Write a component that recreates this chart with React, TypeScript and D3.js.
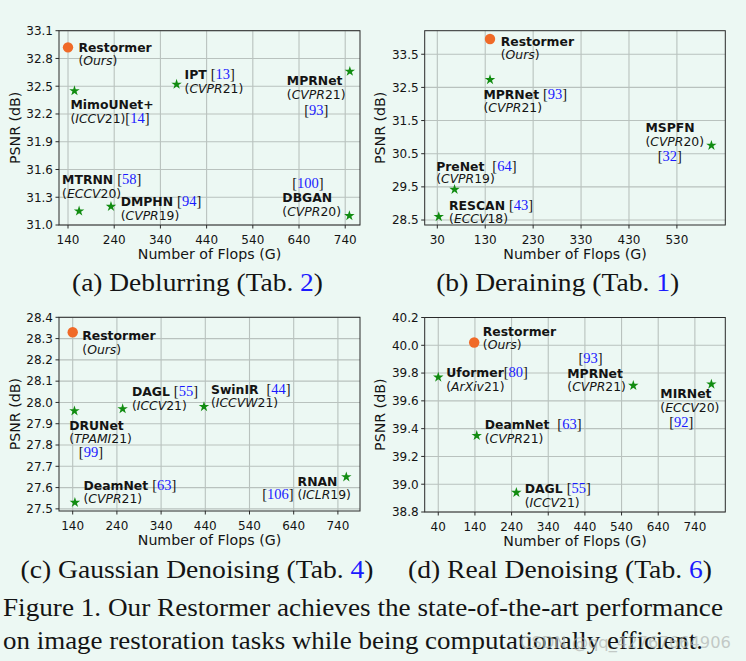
import React from 'react';
import * as d3 from 'd3';

// ---------------- data ----------------
// (a) Deblurring
const deblurModels = ['Restormer', 'MimoUNet+', 'IPT', 'MPRNet', 'MTRNN', 'DMPHN', 'DBGAN'];
const deblurFlops = [140, 154, 375, 750, 164, 233, 749];
const deblurPsnr = [32.92, 32.45, 32.52, 32.66, 31.15, 31.2, 31.1];
const deblurLabels = [
  ['**Restormer**', '(_Ours_)'],
  ['**MimoUNet+**', '(_ICCV_21)[14]'],
  ['**IPT** [13]', '(_CVPR_21)'],
  ['**MPRNet**', '(_CVPR_21)', '[93]'],
  ['**MTRNN** [58]', '(_ECCV_20)'],
  ['**DMPHN** [94]', '(_CVPR_19)'],
  ['[100]', '**DBGAN**', '(_CVPR_20)'],
];
const deblurXTicks = [140, 240, 340, 440, 540, 640, 740];
const deblurYTicks = [31.0, 31.3, 31.6, 31.9, 32.2, 32.5, 32.8, 33.1];

// (b) Deraining
const derainModels = ['Restormer', 'MPRNet', 'MSPFN', 'PreNet', 'RESCAN'];
const derainFlops = [140, 140, 602, 66, 33];
const derainPsnr = [33.96, 32.73, 30.75, 29.42, 28.6];
const derainLabels = [
  ['**Restormer**', '(_Ours_)'],
  ['**MPRNet** [93]', '(_CVPR_21)'],
  ['**MSPFN**', '(_CVPR_20)', '[32]'],
  ['**PreNet**  [64]', '(_CVPR_19)'],
  ['**RESCAN** [43]', '(_ECCV_18)'],
];
const derainXTicks = [30, 130, 230, 330, 430, 530];
const derainYTicks = [28.5, 29.5, 30.5, 31.5, 32.5, 33.5];

// (c) Gaussian Denoising
const gaussModels = ['Restormer', 'DRUNet', 'DAGL', 'SwinIR', 'RNAN', 'DeamNet'];
const gaussFlops = [140, 144, 253, 437, 759, 145];
const gaussPsnr = [28.33, 27.96, 27.97, 27.98, 27.65, 27.53];
const gaussLabels = [
  ['**Restormer**', '(_Ours_)'],
  ['**DRUNet**', '(_TPAMI_21)', '[99]'],
  ['**DAGL** [55]', '(_ICCV_21)'],
  ['**SwinIR**  [44]', '(_ICCVW_21)'],
  ['**RNAN**', '[106]', '(_ICLR_19)'],
  ['**DeamNet** [63]', '(_CVPR_21)'],
];
const gaussXTicks = [140, 240, 340, 440, 540, 640, 740];
const gaussYTicks = [27.5, 27.6, 27.7, 27.8, 27.9, 28.0, 28.1, 28.2, 28.3, 28.4];

// (d) Real Denoising
const realModels = ['Restormer', 'Uformer', 'MPRNet', 'MIRNet', 'DeamNet', 'DAGL'];
const realFlops = [138, 40, 572, 785, 145, 253];
const realPsnr = [40.02, 39.77, 39.71, 39.72, 39.35, 38.94];
const realLabels = [
  ['**Restormer**', '(_Ours_)'],
  ['**Uformer**[80]', '(_ArXiv_21)'],
  ['[93]', '**MPRNet**', '(_CVPR_21)'],
  ['**MIRNet**', '(_ECCV_20)', '[92]'],
  ['**DeamNet**  [63]', '(_CVPR_21)'],
  ['**DAGL** [55]', '(_ICCV_21)'],
];
const realXTicks = [40, 140, 240, 340, 440, 540, 640, 740];
const realYTicks = [38.8, 39.0, 39.2, 39.4, 39.6, 39.8, 40.0, 40.2];

// captions
const subCaptions = [
  ['(a) Deblurring (Tab. ', '2', ')'],
  ['(b) Deraining (Tab. ', '1', ')'],
  ['(c) Gaussian Denoising (Tab. ', '4', ')'],
  ['(d) Real Denoising (Tab. ', '6', ')'],
];
const figureLines = [
  'Figure 1. Our Restormer achieves the state-of-the-art performance',
  'on image restoration tasks while being computationally efficient.',
];
const xAxisTitle = 'Number of Flops (G)';
const yAxisTitle = 'PSNR (dB)';
const watermark = 'CSDN @qq_42767664906';

// ---------------- layout (pixels) ----------------
type LinePos = [number, number, 'start' | 'middle' | 'end'];
const deblurPos: LinePos[][] = [
  [[10.4, 4.4, 'start'], [10.4, 17.9, 'start']],
  [[-4, 18.6, 'start'], [-4, 32.4, 'start']],
  [[8, -5.7, 'start'], [8, 8.5, 'start']],
  [[-63, 14, 'start'], [-63, 28, 'start'], [-33.6, 44, 'middle']],
  [[-17, -27, 'start'], [-17, -13.3, 'start']],
  [[9.7, 0, 'start'], [9.7, 14, 'start']],
  [[-41.4, -27.7, 'middle'], [-67, -13.7, 'start'], [-67, 0.5, 'start']],
];
const derainPos: LinePos[][] = [
  [[10.7, 6.7, 'start'], [10.7, 20, 'start']],
  [[-6.6, 19.3, 'start'], [-6.6, 32.7, 'start']],
  [[-66, -13.3, 'start'], [-66, 0.7, 'start'], [-41.6, 15.7, 'middle']],
  [[-18.4, -19, 'start'], [-18.4, -6.3, 'start']],
  [[10.3, -6.7, 'start'], [10.3, 6, 'start']],
];
const gaussPos: LinePos[][] = [
  [[9.6, 8, 'start'], [9.6, 21.3, 'start']],
  [[-5.3, 19, 'start'], [-5.3, 32.3, 'start'], [4.4, 45.6, 'start']],
  [[9.3, -13.3, 'start'], [9.3, 0.7, 'start']],
  [[7, -13, 'start'], [7, 0.2, 'start']],
  [[-48.7, 9, 'start'], [-52.7, 21.7, 'end'], [-48.7, 21.7, 'start']],
  [[8.6, -12.3, 'start'], [8.6, 0.9, 'start']],
];
const realPos: LinePos[][] = [
  [[8.6, -7, 'start'], [8.6, 6.6, 'start']],
  [[8, 0, 'start'], [8, 13.4, 'start']],
  [[-42.8, -22.7, 'middle'], [-66, -7.7, 'start'], [-66, 5.7, 'start']],
  [[-51, 14, 'start'], [-51, 27.4, 'start'], [-30, 43, 'middle']],
  [[8, -6.4, 'start'], [8, 7, 'start']],
  [[8.4, 0.6, 'start'], [8.4, 14, 'start']],
];
// caption placement: [centerX, baselineY, width]
const captionPlace: [number, number, number][] = [
  [197.5, 291, 251],
  [557.7, 291, 243],
  [197, 578, 353],
  [560, 578, 304],
];
const figurePlace: [number, number, number][] = [
  [3, 616, 720],
  [3, 649, 700],
];

const BG = '#ecf8f3';
const INK = '#141414';
const BLUE = '#1a1aff';
const GREEN = '#118c11';
const ORANGE = '#f06a28';
const GRID = '#b9c2be';
const SANS = "'DejaVu Sans', sans-serif";
const SERIF = "'Liberation Serif', 'Times New Roman', serif";

type Seg = { t: string; k: 'b' | 'i' | 'r' | 'n' };
function parse(s: string): Seg[] {
  return s
    .split(/(\*\*[^*]+\*\*|_[^_]+_|\[\d+\])/)
    .filter((p) => p !== '')
    .map((p) => {
      if (p.startsWith('**')) return { t: p.slice(2, -2), k: 'b' } as Seg;
      if (p.startsWith('_')) return { t: p.slice(1, -1), k: 'i' } as Seg;
      if (/^\[\d+\]$/.test(p)) return { t: p.slice(1, -1), k: 'r' } as Seg;
      return { t: p, k: 'n' } as Seg;
    });
}

function RichLine({ x, y, anchor, s }: { x: number; y: number; anchor: string; s: string }) {
  const segs = parse(s);
  return (
    <text x={x} y={y} textAnchor={anchor} fontFamily={SANS} fontSize={12.4} fill={INK} style={{ whiteSpace: 'pre' }}>
      {segs.map((g, i) =>
        g.k === 'r' ? (
          <tspan key={i} fontFamily={SERIF} fontSize={14.5}>
            [<tspan fill={BLUE}>{g.t}</tspan>]
          </tspan>
        ) : (
          <tspan key={i} fontWeight={g.k === 'b' ? 'bold' : 'normal'} fontStyle={g.k === 'i' ? 'italic' : 'normal'}>
            {g.t}
          </tspan>
        )
      )}
    </text>
  );
}

type PanelProps = {
  models: string[];
  flops: number[];
  psnr: number[];
  labels: string[][];
  pos: LinePos[][];
  xTicks: number[];
  yTicks: number[];
  xDomain: [number, number];
  yDomain: [number, number];
  box: [number, number, number, number];
  yTitleX: number;
};

function Panel(p: PanelProps) {
  const [x0, x1, y0, y1] = p.box;
  const xs = d3.scaleLinear().domain(p.xDomain).range([x0, x1]);
  const ys = d3.scaleLinear().domain(p.yDomain).range([y1, y0]);
  const fmt = d3.format('.1f');
  const star = d3.symbol().type(d3.symbolStar).size(34)();
  return (
    <g>
      {p.xTicks.map((t) => (
        <line key={'gx' + t} x1={xs(t)} x2={xs(t)} y1={y0} y2={y1} stroke={GRID} strokeWidth={1.1} />
      ))}
      {p.yTicks.map((t) => (
        <line key={'gy' + t} x1={x0} x2={x1} y1={ys(t)} y2={ys(t)} stroke={GRID} strokeWidth={1.1} />
      ))}
      <rect x={x0} y={y0} width={x1 - x0} height={y1 - y0} fill="none" stroke="#2a2a2a" strokeWidth={1} />
      {p.xTicks.map((t) => (
        <g key={'tx' + t}>
          <line x1={xs(t)} x2={xs(t)} y1={y1} y2={y1 + 3.5} stroke="#2a2a2a" strokeWidth={1} />
          <text x={xs(t)} y={y1 + 19} textAnchor="middle" fontFamily={SANS} fontSize={12} fill={INK}>
            {t}
          </text>
        </g>
      ))}
      {p.yTicks.map((t) => (
        <g key={'ty' + t}>
          <line x1={x0 - 3.5} x2={x0} y1={ys(t)} y2={ys(t)} stroke="#2a2a2a" strokeWidth={1} />
          <text x={x0 - 6} y={ys(t)} dy="0.36em" textAnchor="end" fontFamily={SANS} fontSize={12} fill={INK}>
            {fmt(t)}
          </text>
        </g>
      ))}
      <text x={(x0 + x1) / 2} y={y1 + 34} textAnchor="middle" fontFamily={SANS} fontSize={14.2} fill={INK}>
        {xAxisTitle}
      </text>
      <text
        transform={`translate(${p.yTitleX},${(y0 + y1) / 2}) rotate(-90)`}
        textAnchor="middle"
        dy="0.36em"
        fontFamily={SANS}
        fontSize={14.2}
        fill={INK}
      >
        {yAxisTitle}
      </text>
      {p.models.map((m, i) => {
        const px = xs(p.flops[i]);
        const py = ys(p.psnr[i]);
        return (
          <g key={m}>
            {i === 0 ? (
              <circle cx={px} cy={py} r={5.2} fill={ORANGE} />
            ) : (
              <path d={star as string} transform={`translate(${px},${py})`} fill={GREEN} />
            )}
            {p.labels[i].map((ln, j) => (
              <RichLine key={j} x={px + p.pos[i][j][0]} y={py + p.pos[i][j][1]} anchor={p.pos[i][j][2]} s={ln} />
            ))}
          </g>
        );
      })}
    </g>
  );
}

function Caption({ parts, place }: { parts: string[]; place: [number, number, number] }) {
  const [cx, y, w] = place;
  return (
    <text
      x={cx - w / 2}
      y={y}
      textLength={w}
      lengthAdjust="spacingAndGlyphs"
      fontFamily={SERIF}
      fontSize={26}
      fill={INK}
      style={{ whiteSpace: 'pre' }}
    >
      <tspan>{parts[0]}</tspan>
      <tspan fill={BLUE}>{parts[1]}</tspan>
      <tspan>{parts[2]}</tspan>
    </text>
  );
}

export default function App() {
  return (
    <svg width={746} height={661} style={{ position: 'absolute', left: 0, top: 0 }}>
      <rect width={746} height={661} fill={BG} />
      <Panel
        models={deblurModels}
        flops={deblurFlops}
        psnr={deblurPsnr}
        labels={deblurLabels}
        pos={deblurPos}
        xTicks={deblurXTicks}
        yTicks={deblurYTicks}
        xDomain={[120.5, 772]}
        yDomain={[31.0, 33.1]}
        box={[59, 360, 30.7, 225]}
        yTitleX={15}
      />
      <Panel
        models={derainModels}
        flops={derainFlops}
        psnr={derainPsnr}
        labels={derainLabels}
        pos={derainPos}
        xTicks={derainXTicks}
        yTicks={derainYTicks}
        xDomain={[3.7, 631]}
        yDomain={[28.35, 34.21]}
        box={[424.7, 725.3, 30.7, 225]}
        yTitleX={380}
      />
      <Panel
        models={gaussModels}
        flops={gaussFlops}
        psnr={gaussPsnr}
        labels={gaussLabels}
        pos={gaussPos}
        xTicks={gaussXTicks}
        yTicks={gaussYTicks}
        xDomain={[109, 790]}
        yDomain={[27.49, 28.4]}
        box={[59, 360, 317.3, 511]}
        yTitleX={15}
      />
      <Panel
        models={realModels}
        flops={realFlops}
        psnr={realPsnr}
        labels={realLabels}
        pos={realPos}
        xTicks={realXTicks}
        yTicks={realYTicks}
        xDomain={[3, 823]}
        yDomain={[38.8, 40.2]}
        box={[424.7, 725.3, 317.5, 512]}
        yTitleX={380}
      />
      {subCaptions.map((c, i) => (
        <Caption key={i} parts={c} place={captionPlace[i]} />
      ))}
      {figureLines.map((l, i) => (
        <text
          key={i}
          x={figurePlace[i][0]}
          y={figurePlace[i][1]}
          textLength={figurePlace[i][2]}
          lengthAdjust="spacingAndGlyphs"
          fontFamily={SERIF}
          fontSize={26}
          fill={INK}
        >
          {l}
        </text>
      ))}
      <text
        x={520}
        y={648}
        textLength={211}
        lengthAdjust="spacingAndGlyphs"
        fontFamily={SANS}
        fontSize={16}
        fill="#b0b4b2"
        fillOpacity={0.7}
      >
        {watermark}
      </text>
    </svg>
  );
}
